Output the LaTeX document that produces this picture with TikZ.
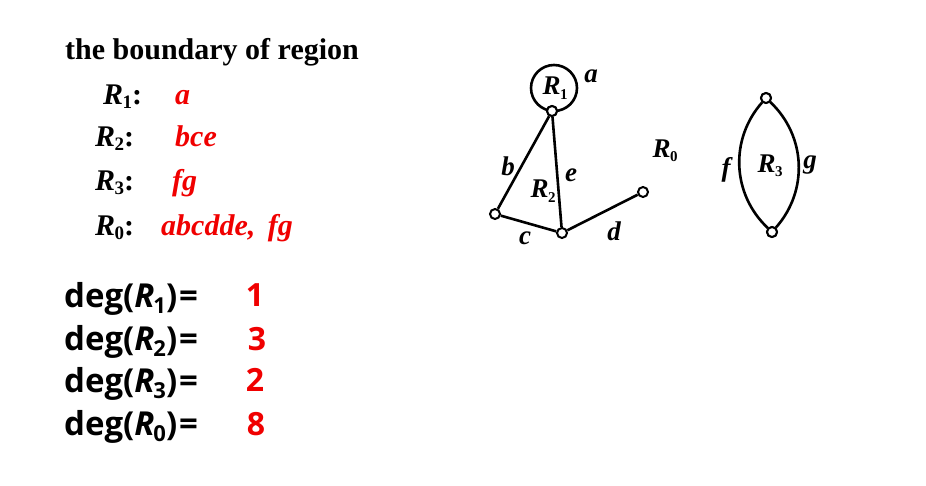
\documentclass[tikz,border=0pt]{standalone}
\usepackage{fontspec}
\setmainfont{Liberation Serif}
\newfontfamily\degfont{Open Sans}
\usetikzlibrary{calc}
\definecolor{redtxt}{RGB}{240,0,0}
\tikzset{
  vtx/.style={circle,draw,fill=white,inner sep=0pt,minimum size=10pt,line width=2pt},
  edge/.style={line width=2.6pt},
  glab/.style={font=\fontsize{27}{27}\selectfont\bfseries\itshape,inner sep=0pt},
  ltxt/.style={font=\fontsize{30}{30}\selectfont\bfseries,anchor=base west,inner sep=0pt},
  rtxt/.style={font=\fontsize{30}{30}\selectfont\bfseries\itshape,text=redtxt,anchor=base west,inner sep=0pt},
  dtxt/.style={font=\fontsize{33}{33}\selectfont\degfont\bfseries,anchor=base west,inner sep=0pt},
  dnum/.style={font=\fontsize{32}{32}\selectfont\degfont\bfseries,text=redtxt,anchor=base,inner sep=0pt}
}
\newcommand{\Rsub}[2]{\textbf{\textit{R}}\kern-0.5pt\raisebox{-0.35ex}{\fontsize{#2}{#2}\selectfont\upshape #1}}
\newcommand{\DegR}[1]{deg(\textit{R}\kern-1pt\raisebox{-0.35ex}{\fontsize{22}{22}\selectfont\upshape #1})\kern2pt=}
\begin{document}
\begin{tikzpicture}[x=1pt,y=-1pt]
\useasboundingbox (0,0) rectangle (926,485);
% left text
\node[ltxt] (title) at (65,59) {the boundary of region};
\node[ltxt] (r1) at (103,104) {\Rsub{1}{19}:};
\node[ltxt] (r2) at (95,146) {\Rsub{2}{19}:};
\node[ltxt] (r3) at (95,190) {\Rsub{3}{19}:};
\node[ltxt] (r0) at (95,235) {\Rsub{0}{19}:};
\node[rtxt] (b1) at (175,104) {a};
\node[rtxt] (b2) at (175,146) {bce};
\node[rtxt] (b3) at (172,190) {fg};
\node[rtxt] (b0) at (161,235) {abcdde,\ \,fg};
% degrees
\node[dtxt] (d1) at (64,307) {\DegR{1}};
\node[dtxt] (d2) at (64,350) {\DegR{2}};
\node[dtxt] (d3) at (64,392) {\DegR{3}};
\node[dtxt] (d0) at (64,435) {\DegR{0}};
\node[dnum] (n1) at (255,306) {1};
\node[dnum] (n2) at (257,350) {3};
\node[dnum] (n3) at (255,391) {2};
\node[dnum] (n0) at (256,435) {8};
% graph 1
\coordinate (lc) at (554,88);
\draw[edge] (lc) circle (23);
\node[vtx] (T) at (552,111) {};
\node[vtx] (L) at (495,214) {};
\node[vtx] (B) at (562,233) {};
\node[vtx] (D) at (643,192) {};
\draw[edge] (T) -- (L);
\draw[edge] (T) -- (B);
\draw[edge] (L) -- (B);
\draw[edge] (B) -- (D);
\node[vtx] (T2) at (552,111) {};
\node[glab] (la) at (591,76) {a};
\node[glab] (R1) at (555,88) {\Rsub{1}{15}};
\node[glab] (lb) at (508,166) {b};
\node[glab] (le) at (571,175) {e};
\node[glab] (R2) at (543,191) {\Rsub{2}{15}};
\node[glab] (lc2) at (525,238) {c};
\node[glab] (ld) at (614,231) {d};
\node[glab] (R0) at (665,151) {\Rsub{0}{15}};
% graph 2
\node[vtx] (U) at (766,98) {};
\node[vtx] (V) at (772,232) {};
\draw[edge] (U) to[bend right=44] (V);
\draw[edge] (U) to[bend left=44] (V);
\node[vtx] (U2) at (766,98) {};
\node[vtx] (V2) at (772,232) {};
\node[glab] (lf) at (726,170) {f};
\node[glab] (lg) at (810,165) {g};
\node[glab] (R3) at (770,166) {\Rsub{3}{15}};
\end{tikzpicture}
\end{document}
